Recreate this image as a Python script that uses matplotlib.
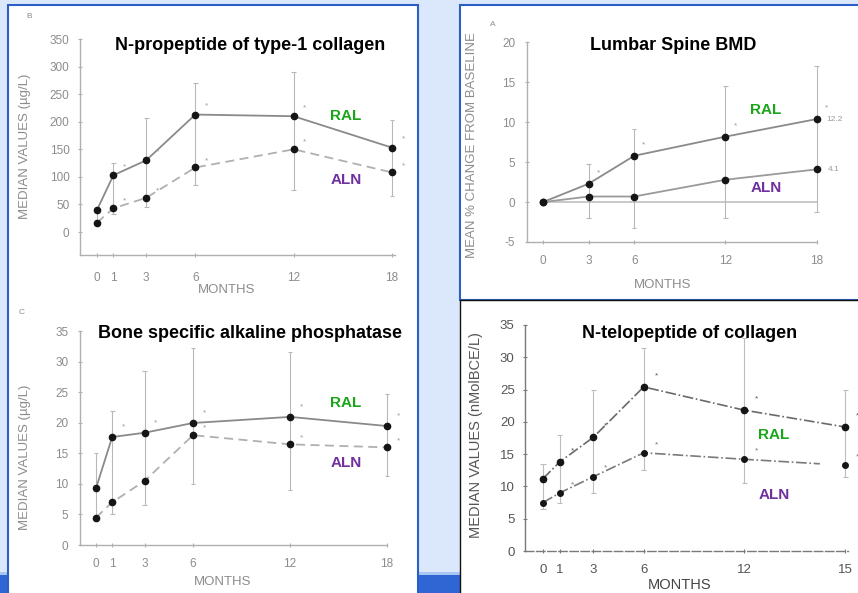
import matplotlib
matplotlib.use("Agg")
import matplotlib.pyplot as plt
from matplotlib.patches import Rectangle

plt.rcParams['font.family'] = ['Liberation Sans', 'DejaVu Sans']

W, H = 858, 593

# ---------------- data ----------------
months6 = [0, 1, 3, 6, 12, 18]
months5 = [0, 3, 6, 12, 18]

# B: N-propeptide of type-1 collagen (ug/L)
pinp_ral = [40, 103, 130, 213, 210, 153]
pinp_aln = [17, 43, 62, 117, 150, 108]
pinp_hi = [45, 125, 206, 270, 290, 203]
pinp_lo = [12, 32, 46, 85, 76, 66]
pinp_yticks = [0, 50, 100, 150, 200, 250, 300, 350]
pinp_xlabels = ["0", "1", "3", "6", "12", "18"]

# A: Lumbar spine BMD (% change from baseline)
bmd_ral = [0, 2.3, 5.8, 8.2, 10.4]
bmd_aln = [0, 0.7, 0.7, 2.8, 4.1]
bmd_hi = [0, 4.8, 9.2, 14.5, 17.0]
bmd_lo = [0, -2.0, -3.3, -2.0, -1.2]
bmd_yticks = [-5, 0, 5, 10, 15, 20]
bmd_xlabels = ["0", "3", "6", "12", "18"]

# C: Bone specific alkaline phosphatase (ug/L)
bsap_ral = [9.3, 17.7, 18.4, 20.0, 21.0, 19.5]
bsap_aln = [4.5, 7.0, 10.5, 18.0, 16.5, 16.0]
bsap_hi = [15.0, 22.0, 28.5, 32.3, 31.6, 24.7]
bsap_lo = [4.0, 5.0, 6.5, 10.0, 9.0, 11.3]
bsap_yticks = [0, 5, 10, 15, 20, 25, 30, 35]
bsap_xlabels = ["0", "1", "3", "6", "12", "18"]

# D: N-telopeptide of collagen (nMolBCE/L)
ntx_ral = [11.2, 13.8, 17.6, 25.4, 21.8, 19.2]
ntx_aln = [7.5, 9.0, 11.5, 15.2, 14.2, 13.3]
ntx_hi = [13.5, 18.0, 25.0, 31.5, 33.0, 25.0]
ntx_lo = [6.5, 7.5, 9.0, 12.5, 10.5, 11.5]
ntx_yticks = [0, 5, 10, 15, 20, 25, 30, 35]
ntx_xlabels = ["0", "1", "3", "6", "12", "15"]

GREEN = "#1aa51a"
PURPLE = "#7030a0"

fig = plt.figure(figsize=(W / 100, H / 100), dpi=100)


def fx(px):
    return px / W


def fy(py):
    return 1 - py / H


def rect(x0, y0, x1, y1, z, **kw):
    r = Rectangle((fx(x0), fy(y1)), fx(x1) - fx(x0), fy(y0) - fy(y1),
                  transform=fig.transFigure, zorder=z, **kw)
    fig.patches.append(r)


def ftext(px, py, s, **kw):
    fig.text(fx(px), fy(py), s, zorder=5, **kw)


# background
rect(0, 0, W, H, -5, facecolor="#dbe7fa", edgecolor="none")
rect(0, 572, W, 575, -4.9, facecolor="#a9c5f2", edgecolor="none")
rect(0, 575, W, H, -4.8, facecolor="#2f66d4", edgecolor="none")
# panels
rect(8, 5, 418, 610, -4, facecolor="white", edgecolor="#2c5fc6", linewidth=1.5)
rect(460, 5, 870, 300, -4, facecolor="white", edgecolor="#2c5fc6", linewidth=1.5)
rect(460, 300, 870, 610, -3.9, facecolor="white", edgecolor="#111111", linewidth=1.0)


def make_ax(left, right, top, bottom, xmin, xmax, ymin, ymax):
    ax = fig.add_axes([fx(left), fy(bottom), fx(right) - fx(left), fy(top) - fy(bottom)])
    ax.set_zorder(2)
    ax.set_xlim(xmin, xmax)
    ax.set_ylim(ymin, ymax)
    ax.patch.set_alpha(0)
    for s in ["top", "right"]:
        ax.spines[s].set_visible(False)
    return ax


def style(ax, xt, xl, yt, tick_color, spine_color, xpad, ypad, fs=8.5):
    ax.set_xticks(xt)
    ax.set_xticklabels(xl)
    ax.set_yticks(yt)
    ax.set_yticklabels([str(v) for v in yt])
    ax.tick_params(axis="both", colors=spine_color, labelcolor=tick_color,
                   labelsize=fs, length=3, width=0.8, direction="inout")
    ax.tick_params(axis="x", pad=xpad)
    ax.tick_params(axis="y", pad=ypad)
    for s in ["left", "bottom"]:
        ax.spines[s].set_color(spine_color)
        ax.spines[s].set_linewidth(1.0)
    ax.spines["left"].set_bounds(ax.get_ylim()[0], yt[-1])


def errs(ax, x, lo, hi, color):
    ax.vlines(x, lo, hi, color=color, lw=0.8, zorder=1)
    ax.hlines(hi, [v - 0.15 for v in x], [v + 0.15 for v in x], color=color, lw=0.8, zorder=1)
    ax.hlines(lo, [v - 0.15 for v in x], [v + 0.15 for v in x], color=color, lw=0.8, zorder=1)


def stars(ax, x, y, dx, dy, color="#9a9a9a"):
    for xi, yi in zip(x, y):
        ax.annotate("*", (xi, yi), xytext=(dx, dy), textcoords="offset points",
                    fontsize=6, color=color, ha="center", va="center")


TITLE_FS = 13
LAB_FS = 11

# ---------------- Panel B ----------------
axB = make_ax(80, 400, 36, 255, (80 - 97) / 16.39, (400 - 97) / 16.39, -41.7, 355.5)
style(axB, months6, pinp_xlabels, pinp_yticks, "#8c8c8c", "#b0b0b0", 11, 6)
axB.spines["bottom"].set_bounds((80 - 97) / 16.39, 18.2)
errs(axB, months6, pinp_lo, pinp_hi, "#b8b8b8")
axB.plot(months6, pinp_ral, "-", color="#8a8a8a", lw=1.3, zorder=2)
axB.plot(months6, pinp_aln, "--", color="#b0b0b0", lw=1.3, dashes=(5, 3), zorder=2)
axB.plot(months6, pinp_ral, "o", color="#151515", ms=4.5, zorder=3, clip_on=False)
axB.plot(months6, pinp_aln, "o", color="#151515", ms=4.5, zorder=3, clip_on=False)
stars(axB, months6[1:], pinp_ral[1:], 8, 6)
stars(axB, months6[1:], pinp_aln[1:], 8, 5)

ftext(250, 45, "N-propeptide of type-1 collagen", fontsize=TITLE_FS, fontweight="bold",
      ha="center", va="center", color="black")
ftext(346, 116, "RAL", fontsize=LAB_FS, fontweight="bold", ha="center", va="center", color=GREEN)
ftext(346, 180, "ALN", fontsize=LAB_FS, fontweight="bold", ha="center", va="center", color=PURPLE)
ftext(227, 290, "MONTHS", fontsize=9.5, ha="center", va="center", color="#8c8c8c")
ftext(25, 146, "MEDIAN VALUES (µg/L)", fontsize=9.5, ha="center", va="center",
      rotation=90, color="#8c8c8c")
ftext(29, 17, "B", fontsize=6, ha="center", va="center", color="#8c8c8c")

# ---------------- Panel A ----------------
axA = make_ax(527, 825, 38, 242, (527 - 543) / 15.2, (825 - 543) / 15.2, -5.0, 20.56)
style(axA, months5, bmd_xlabels, bmd_yticks, "#8c8c8c", "#b0b0b0", 8, 7)
axA.spines["bottom"].set_bounds((527 - 543) / 15.2, 18.0)
axA.plot([months5[0], months5[-1]], [0, 0], "-", color="#c0c0c0", lw=1.2, zorder=1)
errs(axA, months5[1:], bmd_lo[1:], bmd_hi[1:], "#b8b8b8")
axA.plot(months5, bmd_ral, "-", color="#8a8a8a", lw=1.3, zorder=2)
axA.plot(months5, bmd_aln, "-", color="#9a9a9a", lw=1.3, zorder=2)
axA.plot(months5, bmd_ral, "o", color="#151515", ms=4.5, zorder=3, clip_on=False)
axA.plot(months5, bmd_aln, "o", color="#151515", ms=4.5, zorder=3, clip_on=False)
stars(axA, months5[1:], bmd_ral[1:], 7, 8)
axA.annotate("12.2", (18, bmd_ral[-1]), xytext=(13, 0), textcoords="offset points",
             fontsize=6, color="#9a9a9a", ha="center", va="center")
axA.annotate("4.1", (18, bmd_aln[-1]), xytext=(12, 0), textcoords="offset points",
             fontsize=6, color="#9a9a9a", ha="center", va="center")

ftext(673, 45, "Lumbar Spine BMD", fontsize=TITLE_FS, fontweight="bold",
      ha="center", va="center", color="black")
ftext(766, 110, "RAL", fontsize=LAB_FS, fontweight="bold", ha="center", va="center", color=GREEN)
ftext(766, 188, "ALN", fontsize=LAB_FS, fontweight="bold", ha="center", va="center", color=PURPLE)
ftext(663, 285, "MONTHS", fontsize=9.5, ha="center", va="center", color="#8c8c8c")
ftext(472, 145, "MEAN % CHANGE FROM BASELINE", fontsize=9.5, ha="center", va="center",
      rotation=90, color="#8c8c8c")
ftext(493, 25, "A", fontsize=6, ha="center", va="center", color="#8c8c8c")

# ---------------- Panel C ----------------
axC = make_ax(80, 395, 326, 545, (80 - 96) / 16.17, (395 - 96) / 16.17, 0, 35.9)
style(axC, months6, bsap_xlabels, bsap_yticks, "#8c8c8c", "#b0b0b0", 8, 7)
axC.spines["bottom"].set_bounds((80 - 96) / 16.17, 18.0)
errs(axC, months6, bsap_lo, bsap_hi, "#b8b8b8")
axC.plot(months6, bsap_ral, "-", color="#8a8a8a", lw=1.3, zorder=2)
axC.plot(months6, bsap_aln, "--", color="#b0b0b0", lw=1.3, dashes=(5, 3), zorder=2)
axC.plot(months6, bsap_ral, "o", color="#151515", ms=4.5, zorder=3, clip_on=False)
axC.plot(months6, bsap_aln, "o", color="#151515", ms=4.5, zorder=3, clip_on=False)
stars(axC, months6[1:], bsap_ral[1:], 8, 7)
stars(axC, months6[3:], bsap_aln[3:], 8, 5)

ftext(250, 333, "Bone specific alkaline phosphatase", fontsize=TITLE_FS, fontweight="bold",
      ha="center", va="center", color="black")
ftext(346, 403, "RAL", fontsize=LAB_FS, fontweight="bold", ha="center", va="center", color=GREEN)
ftext(346, 463, "ALN", fontsize=LAB_FS, fontweight="bold", ha="center", va="center", color=PURPLE)
ftext(223, 582, "MONTHS", fontsize=9.5, ha="center", va="center", color="#8c8c8c")
ftext(25, 457, "MEDIAN VALUES (µg/L)", fontsize=9.5, ha="center", va="center",
      rotation=90, color="#8c8c8c")
ftext(22, 313, "C", fontsize=6, ha="center", va="center", color="#8c8c8c")

# ---------------- Panel D ----------------
axD = make_ax(525, 850, 320, 551, (525 - 543) / 16.78, (850 - 543) / 16.78, 0, 35.76)
style(axD, months6, ntx_xlabels, ntx_yticks, "#555555", "#7a7a7a", 8, 6, fs=9.5)
axD.spines["left"].set_linestyle((0, (2, 1)))
axD.spines["bottom"].set_linestyle((0, (6, 2)))
axD.spines["bottom"].set_bounds((525 - 543) / 16.78, 18.2)
errs(axD, months6, ntx_lo, ntx_hi, "#bdbdbd")
axD.plot(months6, ntx_ral, "-.", color="#6a6a6a", lw=1.2, zorder=2)
axD.plot(months6[:-1] + [16.5], ntx_aln[:-1] + [ntx_aln[-1] + 0.2], "-.", color="#7a7a7a",
         lw=1.2, zorder=2)
axD.plot(months6, ntx_ral, "o", color="#151515", ms=4.5, zorder=3, clip_on=False)
axD.plot(months6, ntx_aln, "o", color="#151515", ms=4, zorder=3, clip_on=False)
stars(axD, months6[1:], ntx_ral[1:], 9, 8, color="#555555")
stars(axD, months6[1:], ntx_aln[1:], 9, 6, color="#777777")

ftext(690, 334, "N-telopeptide of collagen", fontsize=TITLE_FS, fontweight="bold",
      ha="center", va="center", color="black")
ftext(774, 435, "RAL", fontsize=LAB_FS, fontweight="bold", ha="center", va="center", color=GREEN)
ftext(774, 495, "ALN", fontsize=LAB_FS, fontweight="bold", ha="center", va="center", color=PURPLE)
ftext(680, 585, "MONTHS", fontsize=10.5, ha="center", va="center", color="#444444")
ftext(476, 435, "MEDIAN VALUES (nMolBCE/L)", fontsize=10.5, ha="center", va="center",
      rotation=90, color="#555555")

fig.savefig("out.png", dpi=100)
